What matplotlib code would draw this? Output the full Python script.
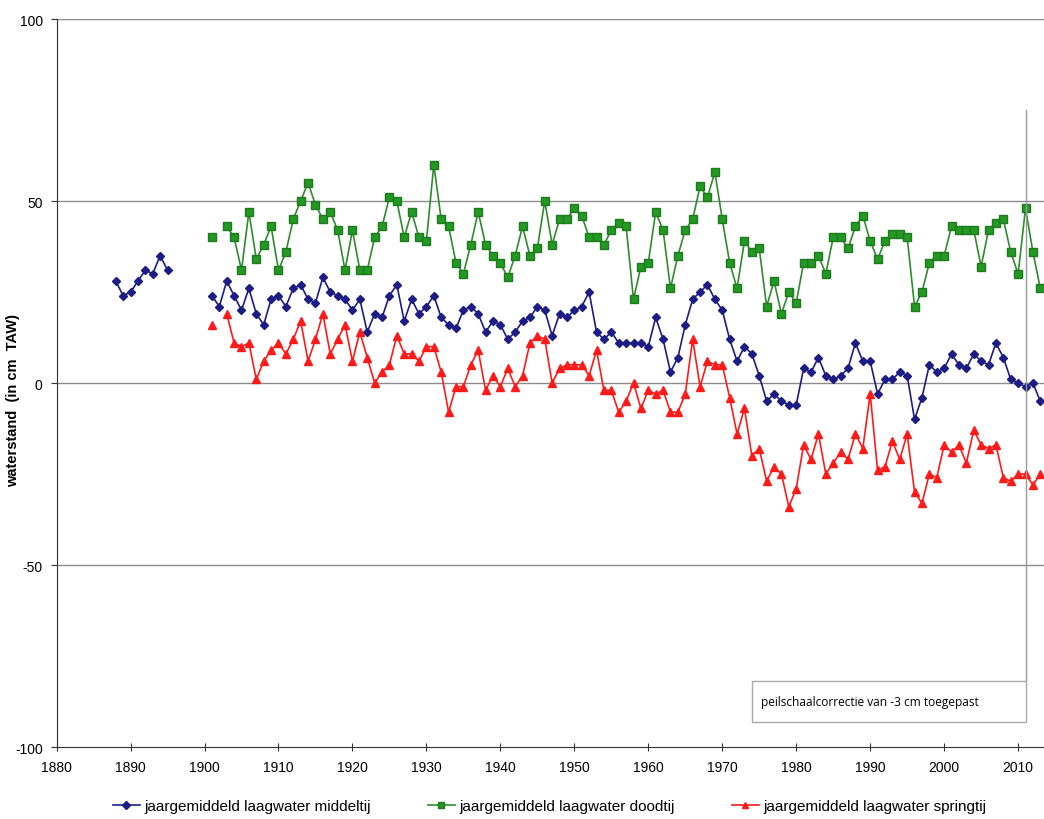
import numpy as np
import matplotlib.pyplot as plt
from matplotlib.patches import Rectangle

plt.rcParams['font.family'] = ['Liberation Sans', 'DejaVu Sans']
plt.rcParams['axes.unicode_minus'] = False

nan = np.nan

# jaargemiddeld laagwater middeltij (1888 - 2013)
years_mid = np.arange(1888, 2014)
middeltij = [28, 24, 25, 28, 31, 30, 35, 31,
             nan, nan, nan, nan, nan,
             24, 21, 28, 24, 20, 26, 19, 16, 23, 24, 21, 26, 27, 23, 22, 29, 25, 24,
             23, 20, 23, 14, 19, 18, 24, 27, 17, 23,
             19, 21, 24, 18, 16, 15, 20, 21, 19, 14,
             17, 16, 12, 14, 17, 18, 21, 20, 13, 19, 18,
             20, 21, 25, 14, 12, 14, 11, 11, 11, 11,
             10, 18, 12, 3, 7, 16, 23, 25, 27, 23,
             20, 12, 6, 10, 8, 2, -5, -3, -5, -6, -6,
             4, 3, 7, 2, 1, 2, 4, 11, 6, 6,
             -3, 1, 1, 3, 2, -10, -4, 5, 3, 4,
             8, 5, 4, 8, 6, 5, 11, 7, 1, 0,
             -1, 0, -5]

# doodtij en springtij (1901 - 2013)
years = np.arange(1901, 2014)
doodtij = [40, nan,
           43, 40, 31, 47, 34, 38, 43, 31, 36, 45, 50, 55, 49, 45, 47, 42,
           31, 42, 31, 31, 40, 43, 51, 50, 40, 47,
           40, 39, 60, 45, 43, 33, 30, 38, 47, 38,
           35, 33, 29, 35, 43, 35, 37, 50, 38, 45, 45,
           48, 46, 40, 40, 38, 42, 44, 43, 23, 32,
           33, 47, 42, 26, 35, 42, 45, 54, 51, 58,
           45, 33, 26, 39, 36, 37, 21, 28, 19, 25, 22,
           33, 33, 35, 30, 40, 40, 37, 43, 46, 39,
           34, 39, 41, 41, 40, 21, 25, 33, 35, 35,
           43, 42, 42, 42, 32, 42, 44, 45, 36, 30,
           48, 36, 26]

springtij = [16, nan,
             19, 11, 10, 11, 1, 6, 9, 11, 8, 12, 17, 6, 12, 19, 8, 12,
             16, 6, 14, 7, 0, 3, 5, 13, 8, 8,
             6, 10, 10, 3, -8, -1, -1, 5, 9, -2,
             2, -1, 4, -1, 2, 11, 13, 12, 0, 4, 5,
             5, 5, 2, 9, -2, -2, -8, -5, 0, -7,
             -2, -3, -2, -8, -8, -3, 12, -1, 6, 5,
             5, -4, -14, -7, -20, -18, -27, -23, -25, -34, -29,
             -17, -21, -14, -25, -22, -19, -21, -14, -18, -3,
             -24, -23, -16, -21, -14, -30, -33, -25, -26, -17,
             -19, -17, -22, -13, -17, -18, -17, -26, -27, -25,
             -25, -28, -25]

labels = ["jaargemiddeld laagwater middeltij",
          "jaargemiddeld laagwater doodtij",
          "jaargemiddeld laagwater springtij"]

fig = plt.figure(figsize=(10.44, 8.2), dpi=100)
ax = fig.add_axes([0.0542, 0.0878, 0.9458, 0.8878])

ax.plot(years_mid, middeltij, color="#1c1c84", marker="D", markersize=4.5, lw=1.2, label=labels[0])
ax.plot(years, doodtij, color="#2e8b2e", marker="s", markersize=6, lw=1.2,
        markerfacecolor="#229922", markeredgecolor="#1f7a1f", label=labels[1])
ax.plot(years, springtij, color="#ff1a1a", marker="^", markersize=5.5, lw=1.2, label=labels[2])

ax.set_xlim(1880, 2013.5)
ax.set_ylim(-100, 100)
ax.set_xticks(np.arange(1880, 2011, 10))
ax.set_yticks([-100, -50, 0, 50, 100])
for v in [50, 0, -50, 100]:
    ax.axhline(v, color="#8c8c8c", lw=1.0, zorder=0)

for s in ["top", "right"]:
    ax.spines[s].set_visible(False)
ax.spines["left"].set_color("#333333")
ax.spines["bottom"].set_color("#333333")
ax.tick_params(axis="x", direction="inout", length=6, labelsize=10, pad=6, color="#333333")
ax.tick_params(axis="y", direction="out", length=4, labelsize=10, pad=6, color="#333333")
ax.set_ylabel("waterstand  (in cm  TAW)", fontsize=10.5, fontweight="bold")
ax.yaxis.set_label_coords(-0.037, 0.478)

# opmerking peilschaal
ax.plot([2011.1, 2011.1], [75, -82], color="#999999", lw=1.0)
ax.add_patch(Rectangle((1974.0, -93.0), 37.1, 11.0, facecolor="white", edgecolor="#aaaaaa", lw=1.0, zorder=3))
ax.text(1975.3, -87.5, "peilschaalcorrectie van -3 cm toegepast", fontsize=8.6, va="center",
        family=["Open Sans", "DejaVu Sans"], zorder=4)

fig.legend(loc="lower center", ncol=3, frameon=False, fontsize=11, bbox_to_anchor=(0.5265, -0.01),
           handlelength=1.8, columnspacing=3.7, handletextpad=0.3, markerscale=0.8)

fig.savefig("out.png")
